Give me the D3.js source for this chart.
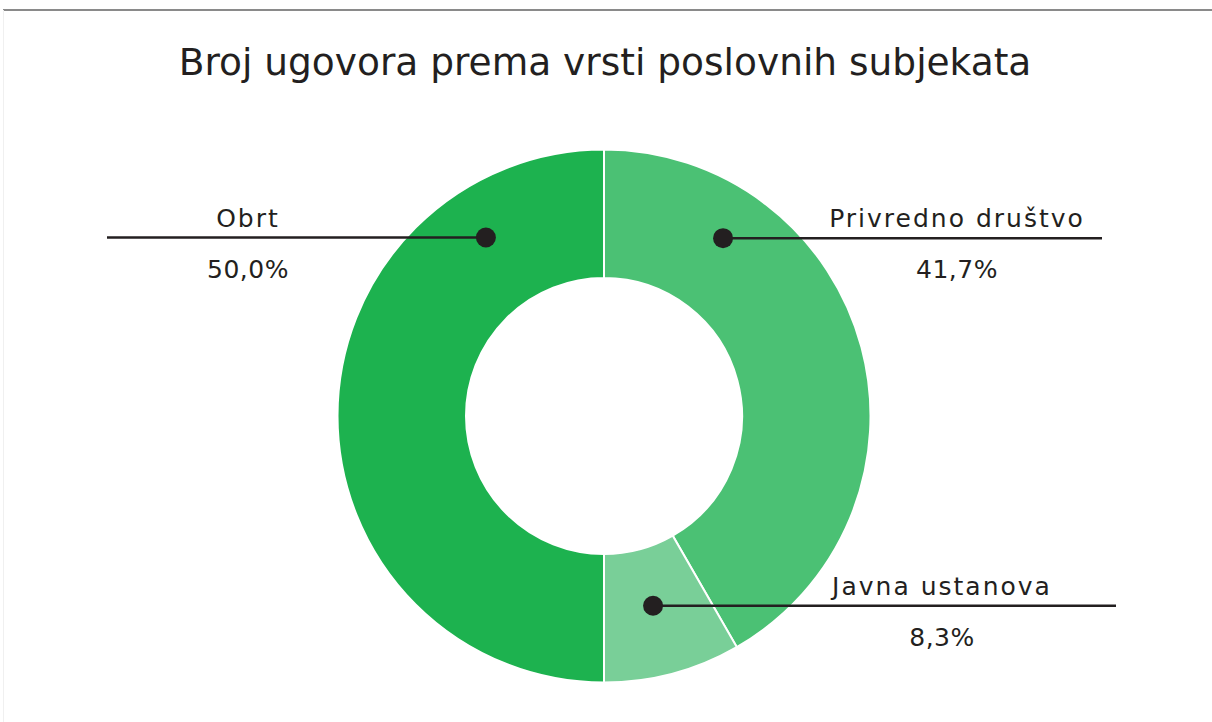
<!DOCTYPE html>
<html>
<head>
<meta charset="utf-8">
<script src="https://cdn.jsdelivr.net/npm/d3@7"></script>
<style>
  body { margin: 0; background: #fff; }
  svg text { font-family: "DejaVu Sans", sans-serif; fill: #231f20; }
</style>
</head>
<body>
<div id="chart"></div>
<script>
const categories = ["Privredno društvo", "Javna ustanova", "Obrt"];
const shares = [41.7, 8.3, 50.0];
const colors = ["#4bc174", "#79cf98", "#1db24f"];

// label placement: dot angle (deg, clockwise from top), dot radius, line end x, text centre x
const labelLayout = {
  "Privredno društvo": { angle: 33.8, r: 214, lineEnd: 1102, textX: 957 },
  "Javna ustanova":    { angle: 165.5, r: 196, lineEnd: 1116, textX: 942 },
  "Obrt":              { angle: -33.5, r: 214, lineEnd: 107, textX: 248 }
};

function createDonut(containerId, width = 1212, height = 722) {
  const svg = d3.select(containerId)
    .append("svg")
    .attr("width", width)
    .attr("height", height);

  // frame line at top
  svg.append("line")
    .attr("x1", 3).attr("x2", width)
    .attr("y1", 10).attr("y2", 10)
    .attr("stroke", "#8a8a8a")
    .attr("stroke-width", 2);
  svg.append("line")
    .attr("x1", 3.5).attr("x2", 3.5)
    .attr("y1", 10).attr("y2", height)
    .attr("stroke", "#f0f0f0")
    .attr("stroke-width", 1);

  svg.append("text")
    .attr("x", 605)
    .attr("y", 75)
    .attr("text-anchor", "middle")
    .attr("font-size", 37.5)
    .text("Broj ugovora prema vrsti poslovnih subjekata");

  const cx = 604, cy = 416;
  const outerR = 266.5, innerR = 138;

  const data = categories.map((c, i) => ({ name: c, value: shares[i], color: colors[i] }));

  const pie = d3.pie().value(d => d.value).sort(null);
  const arc = d3.arc().innerRadius(innerR).outerRadius(outerR);

  const g = svg.append("g").attr("transform", `translate(${cx},${cy})`);

  g.selectAll("path")
    .data(pie(data))
    .enter()
    .append("path")
    .attr("d", arc)
    .attr("fill", d => d.data.color)
    .attr("stroke", "white")
    .attr("stroke-width", 2);

  const fmt = v => d3.format(".1f")(v).replace(".", ",") + "%";

  const labels = g.selectAll("g.label")
    .data(data)
    .enter()
    .append("g")
    .attr("class", "label");

  labels.each(function(d) {
    const L = labelLayout[d.name];
    const a = L.angle * Math.PI / 180;
    const x = L.r * Math.sin(a);
    const y = -L.r * Math.cos(a);
    const sel = d3.select(this);
    sel.append("line")
      .attr("x1", x).attr("y1", y)
      .attr("x2", L.lineEnd - cx).attr("y2", y)
      .attr("stroke", "#231f20")
      .attr("stroke-width", 2.5);
    sel.append("circle")
      .attr("cx", x).attr("cy", y)
      .attr("r", 10)
      .attr("fill", "#231f20");
    sel.append("text")
      .attr("x", L.textX - cx)
      .attr("y", y - 11)
      .attr("text-anchor", "middle")
      .attr("font-size", 25)
      .attr("letter-spacing", 2)
      .text(d.name);
    sel.append("text")
      .attr("x", L.textX - cx)
      .attr("y", y + 40)
      .attr("text-anchor", "middle")
      .attr("font-size", 25)
      .attr("letter-spacing", 0.5)
      .text(fmt(d.value));
  });
}

createDonut("#chart");
</script>
</body>
</html>
